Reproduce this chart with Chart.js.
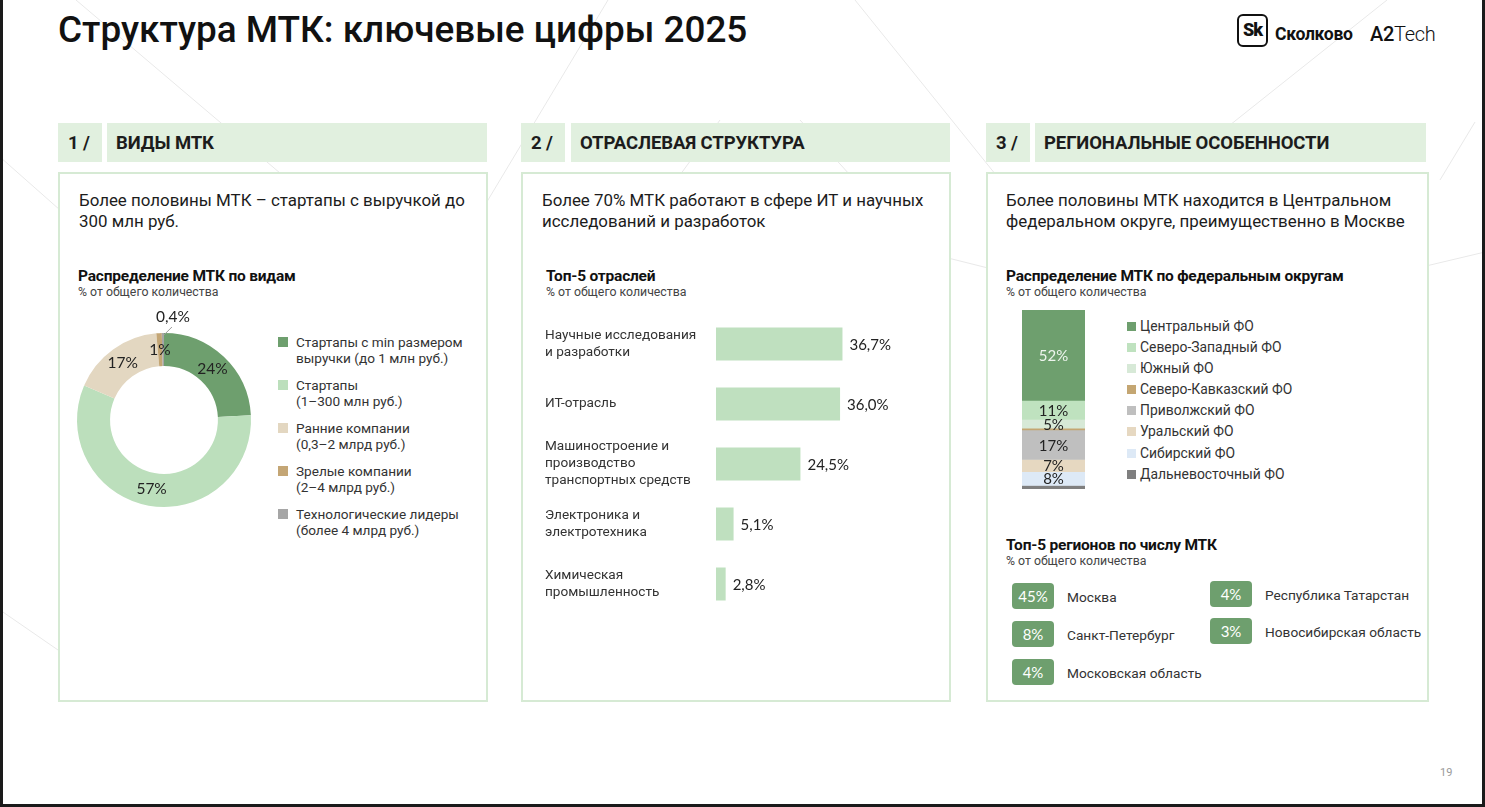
<!DOCTYPE html>
<html><head><meta charset="utf-8">
<script src="https://cdn.jsdelivr.net/npm/chart.js@4/dist/chart.umd.min.js"></script>
<style>
html,body{margin:0;padding:0;}
body{width:1485px;height:807px;overflow:hidden;position:relative;background:#fff;font-family:Roboto,'Noto Sans',sans-serif;color:#1c1c1c;}
.a{position:absolute;}
.strip{position:absolute;background:#1a1a1a;}
.num,.hdr{position:absolute;height:39px;line-height:40px;background:#e1f0df;font-weight:700;font-size:18.5px;color:#1c1c1c;box-sizing:border-box;letter-spacing:-0.1px;}
.num{width:44px;padding-left:10px;}
.hdr{padding-left:9px;}
.panel{position:absolute;border:2px solid #d6ead4;box-sizing:border-box;background:#fff;}
.lead{position:absolute;font-size:16.9px;line-height:21px;color:#1c1c1c;}
.ct{position:absolute;font-size:15.5px;font-weight:700;line-height:18px;color:#111;letter-spacing:-0.2px;}
.cs{position:absolute;font-size:12.3px;line-height:14px;color:#444;}
.leg1 .it{display:flex;align-items:flex-start;margin-bottom:11px;}
.leg1 .sq{width:10px;height:10px;margin-top:3px;flex:none;}
.leg1 .tx{margin-left:8px;font-size:13.6px;line-height:16px;color:#333;}
.leg3 .it{display:flex;align-items:flex-start;height:21.1px;}
.leg3 .sq{width:9px;height:9px;margin-top:6px;flex:none;}
.leg3 .tx{margin-left:4px;font-size:13.9px;line-height:21px;color:#333;}
.badge{position:absolute;width:42px;height:26px;border-radius:4px;background:#6e9f6e;color:#fff;font-family:Lato,Roboto,sans-serif;font-size:15px;line-height:26px;text-align:center;}
.rl{position:absolute;font-size:13.7px;line-height:26px;color:#333;}
canvas{position:absolute;}
</style></head>
<body>
<svg class="a" style="left:0;top:0" width="1485" height="807">
 <g stroke="#e9e9e9" stroke-width="1" fill="none">
  <line x1="76" y1="0" x2="300" y2="190"/>
  <line x1="608" y1="0" x2="470" y2="230"/>
  <line x1="855" y1="0" x2="1000" y2="180"/>
  <line x1="1387" y1="0" x2="1230" y2="125"/>
  <line x1="0" y1="157" x2="60" y2="210"/>
  <line x1="1440" y1="180" x2="1475" y2="122"/>
  <line x1="948" y1="258" x2="988" y2="268"/>
  <line x1="1426" y1="266" x2="1485" y2="252"/>
  <line x1="680" y1="175" x2="720" y2="120"/>
  <line x1="800" y1="120" x2="850" y2="175"/>
  <line x1="0" y1="610" x2="58" y2="650"/>
 </g>
</svg>

<div class="strip" style="left:0;top:0;width:3px;height:807px"></div>
<div class="strip" style="left:1482px;top:0;width:3px;height:807px"></div>
<div class="strip" style="left:0;top:804px;width:1485px;height:3px"></div>

<div class="a" style="left:58px;top:10px;font-size:36.9px;line-height:40px;font-weight:500;color:#111;letter-spacing:0">Структура МТК: ключевые цифры 2025</div>

<!-- logo -->
<div class="a" style="left:1237px;top:14px;width:31px;height:33px;border:2.5px solid #111;border-radius:6px;box-sizing:border-box;font-weight:900;font-size:18px;line-height:28px;text-align:center;letter-spacing:-1px;color:#111">Sk</div>
<div class="a" style="left:1275px;top:23px;font-weight:700;font-size:17.6px;line-height:22px;color:#111;letter-spacing:-0.3px">Сколково</div>
<div class="a" style="left:1370px;top:22px;font-size:20px;line-height:24px;color:#111;letter-spacing:-0.3px"><span style="font-weight:500">A2</span><span style="font-weight:300">Tech</span></div>

<!-- headers -->
<div class="num" style="left:58px;top:123px">1 /</div>
<div class="hdr" style="left:107px;top:123px;width:380px">ВИДЫ МТК</div>
<div class="num" style="left:521px;top:123px">2 /</div>
<div class="hdr" style="left:571px;top:123px;width:379px">ОТРАСЛЕВАЯ СТРУКТУРА</div>
<div class="num" style="left:986px;top:123px">3 /</div>
<div class="hdr" style="left:1035px;top:123px;width:391px">РЕГИОНАЛЬНЫЕ ОСОБЕННОСТИ</div>

<div class="panel" style="left:58px;top:172px;width:430px;height:530px"></div>
<div class="panel" style="left:521px;top:172px;width:430px;height:530px"></div>
<div class="panel" style="left:986px;top:172px;width:443px;height:530px"></div>

<!-- panel 1 -->
<div class="lead" style="left:79px;top:189.5px">Более половины МТК – стартапы с выручкой до<br>300 млн руб.</div>
<div class="ct" style="left:78px;top:266.5px">Распределение МТК по видам</div>
<div class="cs" style="left:78px;top:285px">% от общего количества</div>
<canvas id="donut" width="210" height="220" style="left:60px;top:300px"></canvas>
<div id="leg1" class="a leg1" style="left:278px;top:334px"></div>

<!-- panel 2 -->
<div class="lead" style="left:542px;top:189.5px">Более 70% МТК работают в сфере ИТ и научных<br>исследований и разработок</div>
<div class="ct" style="left:546px;top:266.5px">Топ-5 отраслей</div>
<div class="cs" style="left:546px;top:285px">% от общего количества</div>
<canvas id="bars" width="395" height="334" style="left:545px;top:297px"></canvas>

<!-- panel 3 -->
<div class="lead" style="left:1006px;top:189.5px">Более половины МТК находится в Центральном<br>федеральном округе, преимущественно в Москве</div>
<div class="ct" style="left:1006px;top:266.5px">Распределение МТК по федеральным округам</div>
<div class="cs" style="left:1006px;top:285px">% от общего количества</div>
<canvas id="stack" width="90" height="190" style="left:1010px;top:305px"></canvas>
<div id="leg3" class="a leg3" style="left:1127px;top:316px"></div>
<div class="ct" style="left:1006px;top:535.5px">Топ-5 регионов по числу МТК</div>
<div class="cs" style="left:1006px;top:554px">% от общего количества</div>
<div id="regions"></div>

<div class="a" style="left:1440px;top:766px;font-size:11px;line-height:14px;color:#9a9a9a">19</div>

<script>
// ---------- DATA ----------
const typeLabels = [
  ["Стартапы с min размером", "выручки (до 1 млн руб.)"],
  ["Стартапы", "(1–300 млн руб.)"],
  ["Ранние компании", "(0,3–2 млрд руб.)"],
  ["Зрелые компании", "(2–4 млрд руб.)"],
  ["Технологические лидеры", "(более 4 млрд руб.)"]
];
const typeValues = [24, 57, 17, 1, 0.4];
const typeColors = ["#6e9f6e", "#bcdfbc", "#e3d7c1", "#c4a675", "#a6a6a6"];

const industryLabels = [
  ["Научные исследования", "и разработки"],
  ["ИТ-отрасль"],
  ["Машиностроение и", "производство", "транспортных средств"],
  ["Электроника и", "электротехника"],
  ["Химическая", "промышленность"]
];
const industryValues = [36.7, 36.0, 24.5, 5.1, 2.8];

const districtLabels = ["Центральный ФО", "Северо-Западный ФО", "Южный ФО", "Северо-Кавказский ФО",
  "Приволжский ФО", "Уральский ФО", "Сибирский ФО", "Дальневосточный ФО"];
const districtValues = [52, 11, 5, 1, 17, 7, 8, 2];
const districtColors = ["#6e9f6e", "#bfe2bf", "#d7e9d7", "#c4a672", "#bfbfbf", "#e6d8c1", "#dde9f6", "#7f7f7f"];

const regionNames = ["Москва", "Санкт-Петербург", "Московская область", "Республика Татарстан", "Новосибирская область"];
const regionValues = [45, 8, 4, 4, 3];

// ---------- HELPERS ----------
const pct = (v, d) => (d ? v.toFixed(d) : String(v)).replace('.', ',') + '%';
Chart.defaults.font.family = "Roboto, 'Noto Sans', sans-serif";
Chart.defaults.animation = false;

// legends
document.getElementById('leg1').innerHTML = typeLabels.map((l, i) =>
  `<div class="it"><div class="sq" style="background:${typeColors[i]}"></div><div class="tx">${l.join('<br>')}</div></div>`).join('');
document.getElementById('leg3').innerHTML = districtLabels.map((l, i) =>
  `<div class="it"><div class="sq" style="background:${districtColors[i]}"></div><div class="tx">${l}</div></div>`).join('');

// regions
const regPos = [[1012, 583], [1012, 621], [1012, 659], [1210, 581], [1210, 618]];
document.getElementById('regions').innerHTML = regionNames.map((n, i) =>
  `<div class="badge" style="left:${regPos[i][0]}px;top:${regPos[i][1]}px">${pct(regionValues[i])}</div>` +
  `<div class="rl" style="left:${regPos[i][0] + 55}px;top:${regPos[i][1] + 1}px">${n}</div>`).join('');

// ---------- DONUT ----------
const donutLabels = {
  id: 'donutLabels',
  afterDatasetsDraw(chart) {
    const ctx = chart.ctx;
    chart.getDatasetMeta(0).data.forEach((arc, i) => {
      const v = typeValues[i];
      const p = arc.getProps(['x', 'y', 'startAngle', 'endAngle', 'innerRadius', 'outerRadius'], true);
      const mid = (p.startAngle + p.endAngle) / 2;
      ctx.save();
      ctx.font = "15.5px Lato, Roboto, sans-serif";
      ctx.fillStyle = '#222';
      ctx.textAlign = 'center';
      ctx.textBaseline = 'middle';
      if (v < 1) {
        const ox = p.x + Math.cos(mid) * p.outerRadius, oy = p.y + Math.sin(mid) * p.outerRadius;
        ctx.strokeStyle = '#9a9a9a'; ctx.lineWidth = 1;
        ctx.beginPath(); ctx.moveTo(ox + 1, oy + 2); ctx.lineTo(ox + 9, oy - 6); ctx.stroke();
        ctx.fillText(pct(v), ox + 10, oy - 16);
      } else {
        const r = (p.innerRadius + p.outerRadius) / 2;
        ctx.fillText(pct(v), p.x + Math.cos(mid) * r, p.y + Math.sin(mid) * r);
      }
      ctx.restore();
    });
  }
};
new Chart(document.getElementById('donut'), {
  type: 'doughnut',
  data: { labels: typeLabels.map(l => l.join(' ')), datasets: [{ data: typeValues, backgroundColor: typeColors, borderWidth: 0 }] },
  options: {
    responsive: false, cutout: '62%',
    layout: { padding: { left: 17, right: 19, top: 33, bottom: 13 } },
    plugins: { legend: { display: false }, tooltip: { enabled: false } }
  },
  plugins: [donutLabels]
});

// ---------- HORIZONTAL BARS ----------
const barLabels = {
  id: 'barLabels',
  afterDatasetsDraw(chart) {
    const ctx = chart.ctx;
    chart.getDatasetMeta(0).data.forEach((bar, i) => {
      ctx.save();
      ctx.font = "15px Lato, Roboto, sans-serif";
      ctx.fillStyle = '#222'; ctx.textAlign = 'left'; ctx.textBaseline = 'middle';
      ctx.fillText(pct(industryValues[i], 1), bar.x + 7, bar.y + 1);
      ctx.restore();
    });
  }
};
new Chart(document.getElementById('bars'), {
  type: 'bar',
  data: { labels: industryLabels, datasets: [{ data: industryValues, backgroundColor: '#bfe0bf', categoryPercentage: 1, barPercentage: 0.55 }] },
  options: {
    indexAxis: 'y', responsive: false,
    layout: { padding: 0 },
    scales: {
      x: { display: false, min: 0, max: 65 },
      y: {
        grid: { display: false }, border: { display: false },
        ticks: { crossAlign: 'far', padding: 0, autoSkip: false, color: '#333', font: { size: 13.6, lineHeight: 1.25 } },
        afterFit(s) { s.width = 171; }
      }
    },
    plugins: { legend: { display: false }, tooltip: { enabled: false } }
  },
  plugins: [barLabels]
});

// ---------- STACKED BAR ----------
const total = districtValues.reduce((a, b) => a + b, 0);
const stackLabels = {
  id: 'stackLabels',
  afterDatasetsDraw(chart) {
    const ctx = chart.ctx;
    chart.data.datasets.forEach((ds, i) => {
      const v = districtValues[i];
      if (v < 5) return;
      const el = chart.getDatasetMeta(i).data[0];
      const p = el.getProps(['x', 'y', 'base'], true);
      ctx.save();
      ctx.font = "15px Lato, Roboto, sans-serif";
      ctx.fillStyle = i === 0 ? '#eef5ee' : '#222';
      ctx.textAlign = 'center'; ctx.textBaseline = 'middle';
      ctx.fillText(pct(v), p.x, (p.y + p.base) / 2 + 1);
      ctx.restore();
    });
  }
};
new Chart(document.getElementById('stack'), {
  type: 'bar',
  data: {
    labels: [''],
    datasets: districtLabels.map((l, i) => ({ label: l, data: [districtValues[i]], backgroundColor: districtColors[i], barPercentage: 1, categoryPercentage: 1, borderWidth: 0 }))
  },
  options: {
    responsive: false,
    layout: { padding: { left: 12, right: 15, top: 5, bottom: 6 } },
    scales: {
      x: { display: false, stacked: true },
      y: { display: false, stacked: true, reverse: true, min: 0, max: total }
    },
    plugins: { legend: { display: false }, tooltip: { enabled: false } }
  },
  plugins: [stackLabels]
});
</script>
</body></html>
